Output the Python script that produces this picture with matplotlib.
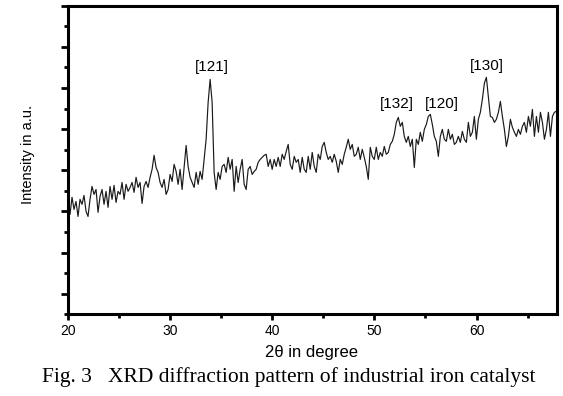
import numpy as np
import matplotlib
matplotlib.use("Agg")
from matplotlib import pyplot as plt
from matplotlib.ticker import FixedLocator

plt.rcParams['font.family'] = ['Liberation Sans', 'DejaVu Sans']

# scan: 2theta from 20 deg, step 0.196 deg, 245 points
theta_start = 20.0
theta_step = 0.196

# intensity (a.u.)
intensity = [
    559, 486, 569, 510, 549, 476, 559, 535, 578, 501,
    476, 559, 622, 583, 607, 496, 573, 607, 535, 598,
    520, 622, 559, 627, 544, 598, 583, 641, 559, 632,
    598, 617, 641, 593, 666, 617, 641, 539, 622, 646,
    617, 666, 705, 773, 714, 690, 641, 617, 656, 583,
    607, 680, 646, 729, 695, 632, 705, 607, 714, 821,
    719, 666, 641, 617, 690, 632, 695, 656, 753, 851,
    1030, 1142, 1030, 690, 607, 690, 656, 719, 729, 690,
    763, 705, 753, 598, 719, 641, 705, 753, 632, 607,
    705, 719, 680, 695, 705, 739, 753, 763, 773, 778,
    719, 753, 705, 753, 719, 763, 719, 778, 753, 792,
    826, 729, 705, 768, 739, 753, 690, 763, 705, 690,
    768, 705, 787, 719, 690, 778, 753, 816, 836, 787,
    753, 768, 739, 778, 744, 690, 753, 729, 778, 812,
    851, 802, 826, 768, 778, 812, 753, 802, 763, 719,
    656, 812, 768, 753, 812, 753, 787, 768, 816, 778,
    787, 826, 841, 875, 933, 957, 914, 933, 865, 836,
    865, 816, 851, 714, 851, 826, 885, 841, 899, 923,
    962, 972, 923, 865, 841, 768, 865, 899, 851, 841,
    899, 851, 875, 826, 836, 865, 836, 889, 851, 836,
    933, 865, 885, 962, 851, 948, 982, 1045, 1123, 1152,
    1059, 962, 957, 933, 948, 982, 1035, 962, 899, 816,
    865, 948, 909, 885, 865, 899, 875, 914, 933, 885,
    962, 914, 996, 865, 962, 885, 982, 933, 851, 899,
    982, 865, 962, 982, 987,
]
two_theta = theta_start + theta_step * np.arange(len(intensity))

# peak labels
peak_labels = ["[121]", "[132]", "[120]", "[130]"]
peak_pos = [34.1, 52.2, 56.6, 61.05]
peak_y = [1170, 990, 990, 1175]

fig = plt.figure(figsize=(5.63, 3.96), dpi=100)
ax = fig.add_axes([0.1208, 0.2061, 0.8680, 0.7795])

ax.plot(two_theta, intensity, color='#1a1a1a', lw=0.85)

for lab, xp, yp in zip(peak_labels, peak_pos, peak_y):
    ax.text(xp, yp, lab, ha='center', va='bottom', fontsize=11)

ax.set_xlim(20, 67.85)
ax.set_ylim(0, 1500)

ax.xaxis.set_major_locator(FixedLocator([20, 30, 40, 50, 60]))
ax.xaxis.set_minor_locator(FixedLocator([25, 35, 45, 55, 65]))
ax.yaxis.set_major_locator(FixedLocator(np.arange(100, 1501, 200)))
ax.yaxis.set_minor_locator(FixedLocator(np.arange(0, 1500, 200)))
ax.set_yticklabels([])

ax.tick_params(axis='both', which='major', direction='out', width=2.0,
               length=5, labelsize=10, top=False, right=False)
ax.tick_params(axis='both', which='minor', direction='out', width=2.0,
               length=3, top=False, right=False)
ax.tick_params(axis='x', which='major', length=4, pad=3)

for sp in ax.spines.values():
    sp.set_linewidth(2.2)

fig.text(0.553, 0.111, "2θ in degree", ha='center', va='center', fontsize=12)
fig.text(0.05, 0.611, "Intensity in a.u.", ha='center', va='center',
         rotation=90, fontsize=10.5)
fig.text(0.512, 0.048, "Fig. 3   XRD diffraction pattern of industrial iron catalyst",
         ha='center', va='center', fontsize=15.5, family='Liberation Serif')

fig.savefig("out.png", dpi=100)
